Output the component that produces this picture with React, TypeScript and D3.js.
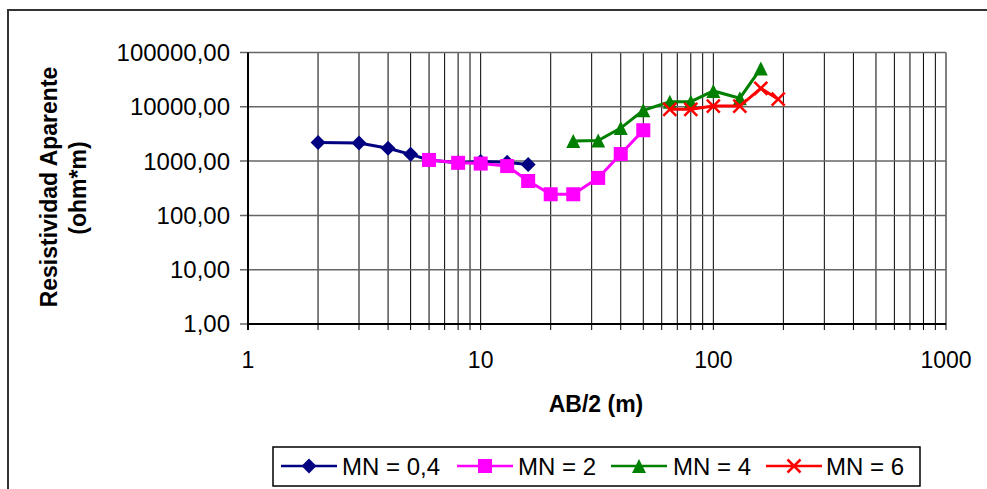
import React from "react";
import * as d3 from "d3";

const xDomain = [1, 1000];
const yDomain = [1, 100000];
const yTickValues = [1, 10, 100, 1000, 10000, 100000];
const yTickLabels = ["1,00", "10,00", "100,00", "1000,00", "10000,00", "100000,00"];
const xTickValues = [1, 10, 100, 1000];
const xTickLabels = ["1", "10", "100", "1000"];

const mn04X = [2, 3, 4, 5, 6, 8, 10, 13, 16];
const mn04Y = [2200, 2150, 1720, 1330, 1050, 930, 980, 950, 870];
const mn2X = [6, 8, 10, 13, 16, 20, 25, 32, 40, 50];
const mn2Y = [1050, 930, 900, 810, 430, 245, 245, 490, 1350, 3700];
const mn4X = [25, 32, 40, 50, 65, 80, 100, 130, 160];
const mn4Y = [2350, 2400, 4050, 8600, 12400, 12400, 19600, 14400, 51000];
const mn6X = [65, 80, 100, 130, 160, 190];
const mn6Y = [9000, 9000, 10300, 10300, 21900, 13800];

const seriesNames = ["MN = 0,4", "MN = 2", "MN = 4", "MN = 6"];
const seriesColors = ["#000080", "#FF00FF", "#008000", "#FF0000"];
const seriesMarkers = ["diamond", "square", "triangle", "x"];

const FONT = "'Liberation Sans', Arial, sans-serif";

function Marker({ type, x, y, color }: { type: string; x: number; y: number; color: string }) {
  if (type === "diamond") {
    const r = 7.5;
    return <path d={`M${x},${y - r}L${x + r},${y}L${x},${y + r}L${x - r},${y}Z`} fill={color} />;
  }
  if (type === "square") {
    const r = 7;
    return <rect x={x - r} y={y - r} width={2 * r} height={2 * r} fill={color} />;
  }
  if (type === "triangle") {
    const r = 7;
    return <path d={`M${x},${y - r}L${x + r},${y + r}L${x - r},${y + r}Z`} fill={color} />;
  }
  const r = 6.5;
  return (
    <path
      d={`M${x - r},${y - r}L${x + r},${y + r}M${x - r},${y + r}L${x + r},${y - r}`}
      stroke={color}
      strokeWidth={2.5}
      fill="none"
    />
  );
}

export default function App() {
  const W = 987;
  const H = 489;
  const left = 248;
  const right = 946;
  const top = 52.5;
  const bottom = 324;

  const x = d3.scaleLog().domain(xDomain).range([left, right]);
  const y = d3.scaleLog().domain(yDomain).range([bottom, top]);

  const minorX: number[] = [];
  for (let k = 0; k < 3; k++) {
    for (let m = 1; m <= 9; m++) minorX.push(m * Math.pow(10, k));
  }
  minorX.push(1000);

  const data = [
    { xs: mn04X, ys: mn04Y },
    { xs: mn2X, ys: mn2Y },
    { xs: mn4X, ys: mn4Y },
    { xs: mn6X, ys: mn6Y },
  ];

  const line = d3
    .line<[number, number]>()
    .x((d) => x(d[0]))
    .y((d) => y(d[1]));

  const legendItems = [
    { lx: 281, tx: 342 },
    { lx: 457, tx: 518 },
    { lx: 611, tx: 673 },
    { lx: 766, tx: 826 },
  ];

  return (
    <svg
      width={W}
      height={H}
      style={{ position: "absolute", left: 0, top: 0, background: "#fff" }}
      fontFamily={FONT}
    >
      <rect x={0} y={0} width={W} height={H} fill="#fff" />
      <rect x={8} y={10} width={1000} height={500} fill="none" stroke="#333" strokeWidth={2} />

      {/* vertical gridlines */}
      {minorX.map((v, i) => (
        <line key={"vx" + i} x1={x(v)} x2={x(v)} y1={top} y2={bottom + 6} stroke="#000" strokeWidth={1} />
      ))}
      {/* horizontal gridlines */}
      {yTickValues.map((v, i) => (
        <line key={"hy" + i} x1={left - 8} x2={right} y1={y(v)} y2={y(v)} stroke="#666" strokeWidth={1.5} />
      ))}
      {/* axes */}
      <line x1={left} x2={left} y1={top} y2={bottom + 6} stroke="#000" strokeWidth={2} />
      <line x1={left} x2={right} y1={bottom} y2={bottom} stroke="#000" strokeWidth={2} />

      {/* y tick labels */}
      {yTickValues.map((v, i) => (
        <text key={"yl" + i} x={230} y={y(v)} dy="0.35em" textAnchor="end" fontSize={24} fill="#000">
          {yTickLabels[i]}
        </text>
      ))}
      {/* x tick labels */}
      {xTickValues.map((v, i) => (
        <text key={"xl" + i} x={x(v)} y={368} textAnchor="middle" fontSize={23} fill="#000">
          {xTickLabels[i]}
        </text>
      ))}

      {/* axis titles */}
      <text x={596} y={412} textAnchor="middle" fontSize={23} fontWeight="bold" fill="#000">
        AB/2 (m)
      </text>
      <text
        transform="translate(57,187) rotate(-90)"
        textAnchor="middle"
        fontSize={23}
        fontWeight="bold"
        fill="#000"
      >
        Resistividad Aparente
      </text>
      <text
        transform="translate(86,188) rotate(-90)"
        textAnchor="middle"
        fontSize={23}
        fontWeight="bold"
        fill="#000"
      >
        (ohm*m)
      </text>

      {/* series */}
      {data.map((s, si) => {
        const pts: [number, number][] = s.xs.map((xv, i) => [xv, s.ys[i]]);
        return (
          <g key={"s" + si}>
            <path d={line(pts) || ""} fill="none" stroke={seriesColors[si]} strokeWidth={3} />
            {pts.map((p, i) => (
              <Marker key={i} type={seriesMarkers[si]} x={x(p[0])} y={y(p[1])} color={seriesColors[si]} />
            ))}
          </g>
        );
      })}

      {/* legend */}
      <rect x={273} y={447} width={647} height={39} fill="#fff" stroke="#000" strokeWidth={1.5} />
      {legendItems.map((it, i) => (
        <g key={"lg" + i}>
          <line x1={it.lx} x2={it.lx + 56} y1={466} y2={466} stroke={seriesColors[i]} strokeWidth={2.5} />
          <Marker type={seriesMarkers[i]} x={it.lx + 28} y={466} color={seriesColors[i]} />
          <text x={it.tx} y={475} fontSize={24} fill="#000">
            {seriesNames[i]}
          </text>
        </g>
      ))}
    </svg>
  );
}
